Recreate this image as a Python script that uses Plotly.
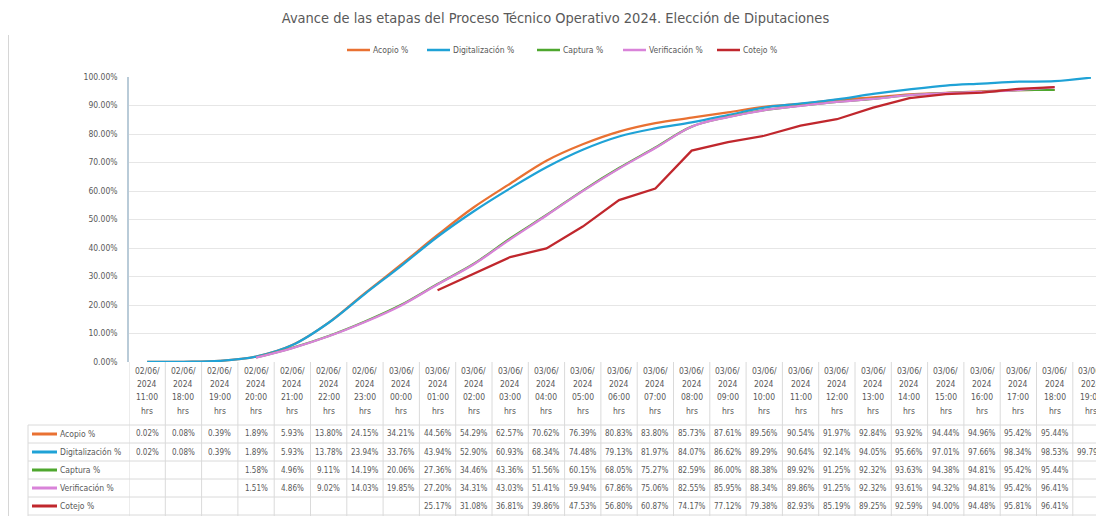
import plotly.graph_objects as go

# ---------------- data ----------------
fechas = ["02/06/", "02/06/", "02/06/", "02/06/", "02/06/", "02/06/", "02/06/",
          "03/06/", "03/06/", "03/06/", "03/06/", "03/06/", "03/06/", "03/06/",
          "03/06/", "03/06/", "03/06/", "03/06/", "03/06/", "03/06/", "03/06/",
          "03/06/", "03/06/", "03/06/", "03/06/", "03/06/", "03/06/"]
anio = "2024"
horas = ["11:00", "18:00", "19:00", "20:00", "21:00", "22:00", "23:00", "00:00",
         "01:00", "02:00", "03:00", "04:00", "05:00", "06:00", "07:00", "08:00",
         "09:00", "10:00", "11:00", "12:00", "13:00", "14:00", "15:00", "16:00",
         "17:00", "18:00", "19:00"]
categorias = [f"{f}{anio} {h} hrs" for f, h in zip(fechas, horas)]

acopio = [0.02, 0.08, 0.39, 1.89, 5.93, 13.80, 24.15, 34.21, 44.56, 54.29, 62.57,
          70.62, 76.39, 80.83, 83.80, 85.73, 87.61, 89.56, 90.54, 91.97, 92.84,
          93.92, 94.44, 94.96, 95.42, 95.44, None]
digitalizacion = [0.02, 0.08, 0.39, 1.89, 5.93, 13.78, 23.94, 33.76, 43.94, 52.90,
                  60.93, 68.34, 74.48, 79.13, 81.97, 84.07, 86.62, 89.29, 90.64,
                  92.14, 94.05, 95.66, 97.01, 97.66, 98.34, 98.53, 99.79]
captura = [None, None, None, 1.58, 4.96, 9.11, 14.19, 20.06, 27.36, 34.46, 43.36,
           51.56, 60.15, 68.05, 75.27, 82.59, 86.00, 88.38, 89.92, 91.25, 92.32,
           93.63, 94.38, 94.81, 95.42, 95.44, None]
verificacion = [None, None, None, 1.51, 4.86, 9.02, 14.03, 19.85, 27.20, 34.31,
                43.03, 51.41, 59.94, 67.86, 75.06, 82.55, 85.95, 88.34, 89.86,
                91.25, 92.32, 93.61, 94.32, 94.81, 95.42, 96.41, None]
cotejo = [None, None, None, None, None, None, None, None, 25.17, 31.08, 36.81,
          39.86, 47.53, 56.80, 60.87, 74.17, 77.12, 79.38, 82.93, 85.19, 89.25,
          92.59, 94.00, 94.48, 95.81, 96.41, None]

y_ticks = [0, 10, 20, 30, 40, 50, 60, 70, 80, 90, 100]

series = [
    ("Acopio %", acopio, "#E97132", "spline"),
    ("Digitalización %", digitalizacion, "#1FA2D6", "spline"),
    ("Captura %", captura, "#4EA72E", "spline"),
    ("Verificación %", verificacion, "#D983D9", "spline"),
    ("Cotejo %", cotejo, "#C0272D", "linear"),
]

# ---------------- geometry helpers (screen pixels; page has 8px body margin) ----
OFF = 8
SW, SH = 1104, 516
W, H = SW - OFF, SH - OFF
PL, PR, PT, PB = 129, 1104, 77, 362   # plot area in screen pixels
COL_W = 36.3                           # category column width in pixels
X_MAX = -0.5 + (PR - PL) / COL_W


def py(p):
    return (PB - p) / (PB - PT)


def px(p):
    return (p - PL) / (PR - PL)


FONT = "Liberation Sans Narrow, Arial Narrow, DejaVu Sans Condensed, sans-serif"
TXT = "#595959"

fig = go.Figure()
for name, vals, color, shape in series:
    fig.add_trace(go.Scatter(
        x=categorias, y=vals, name=name, mode="lines",
        line=dict(color=color, width=2.25, shape=shape, smoothing=1.0),
        connectgaps=False, cliponaxis=False, showlegend=False,
    ))

shapes = []
annotations = []
# table vertical separators
for i in range(len(categorias) + 1):
    shapes.append(dict(type="line", xref="x", yref="paper", x0=i - 0.5, x1=i - 0.5,
                       y0=py(518), y1=0, line=dict(color="#DADADA", width=1)))
# table horizontal lines
row_lines = [425, 443, 461, 479, 497, 515]
for p in row_lines:
    shapes.append(dict(type="line", xref="paper", yref="paper", x0=px(28), x1=1.02,
                       y0=py(p), y1=py(p), line=dict(color="#DADADA", width=1)))
shapes.append(dict(type="line", xref="paper", yref="paper", x0=px(28), x1=px(28),
                   y0=py(425), y1=py(518), line=dict(color="#DADADA", width=1)))
# outer border left
shapes.append(dict(type="line", xref="paper", yref="paper", x0=px(8.5), x1=px(8.5),
                   y0=py(35), y1=py(518), line=dict(color="#D6D6D6", width=1)))

# header labels
head_y = [371, 384, 397, 411]
for i, c in enumerate(categorias):
    for txt, yy in zip([fechas[i], anio, horas[i], "hrs"], head_y):
        annotations.append(dict(x=c, xref="x", y=py(yy), yref="paper", text=txt,
                                showarrow=False, xanchor="center", yanchor="middle",
                                font=dict(family=FONT, size=8.5, color=TXT)))

# data rows
row_y = [434, 452, 470, 488, 506]
for (name, vals, color, shape), yy in zip(series, row_y):
    shapes.append(dict(type="line", xref="paper", yref="paper", x0=px(32), x1=px(57),
                       y0=py(yy), y1=py(yy), line=dict(color=color, width=3)))
    annotations.append(dict(x=px(58), xref="paper", y=py(yy), yref="paper", text=name,
                            showarrow=False, xanchor="left", yanchor="middle",
                            font=dict(family=FONT, size=8.5, color=TXT)))
    for c, v in zip(categorias, vals):
        if v is None:
            continue
        annotations.append(dict(x=c, xref="x", y=py(yy), yref="paper",
                                text=f"{v:.2f}%", showarrow=False,
                                xanchor="center", yanchor="middle",
                                font=dict(family=FONT, size=8, color=TXT)))

# manual legend (top)
legend_pos = [347, 427, 537, 623, 717]
LEG_Y = 50
for (name, vals, color, shape), x0 in zip(series, legend_pos):
    shapes.append(dict(type="line", xref="paper", yref="paper", x0=px(x0), x1=px(x0 + 23),
                       y0=py(LEG_Y), y1=py(LEG_Y), line=dict(color=color, width=2.5)))
    annotations.append(dict(x=px(x0 + 24), xref="paper", y=py(LEG_Y), yref="paper",
                            text=name, showarrow=False, xanchor="left", yanchor="middle",
                            font=dict(family=FONT, size=8.5, color=TXT)))

fig.update_layout(
    width=W, height=H,
    margin=dict(l=PL - OFF, r=SW - PR, t=PT - OFF, b=SH - PB),
    paper_bgcolor="white", plot_bgcolor="white",
    font=dict(family=FONT, color=TXT),
    showlegend=False,
    title=dict(text="Avance de las etapas del Proceso Técnico Operativo 2024. Elección de Diputaciones",
               x=(555.5 - OFF) / W, xanchor="center", y=1 - (18 - OFF) / H, yanchor="middle",
               font=dict(family=FONT, size=14.5, color=TXT)),
    xaxis=dict(type="category", range=[-0.5, X_MAX], showticklabels=False,
               showgrid=False, zeroline=False, showline=False, fixedrange=True),
    yaxis=dict(range=[0, 100], tickvals=y_ticks,
               ticktext=[f"{v:.2f}%" for v in y_ticks],
               showgrid=True, gridcolor="#E6E6E6", gridwidth=1, zeroline=False,
               showline=True, linecolor="#B9CBD8", linewidth=1.5,
               ticklabelstandoff=8,
               tickfont=dict(family=FONT, size=8.5, color=TXT)),
    shapes=shapes, annotations=annotations,
)

fig.write_html("out.html")
